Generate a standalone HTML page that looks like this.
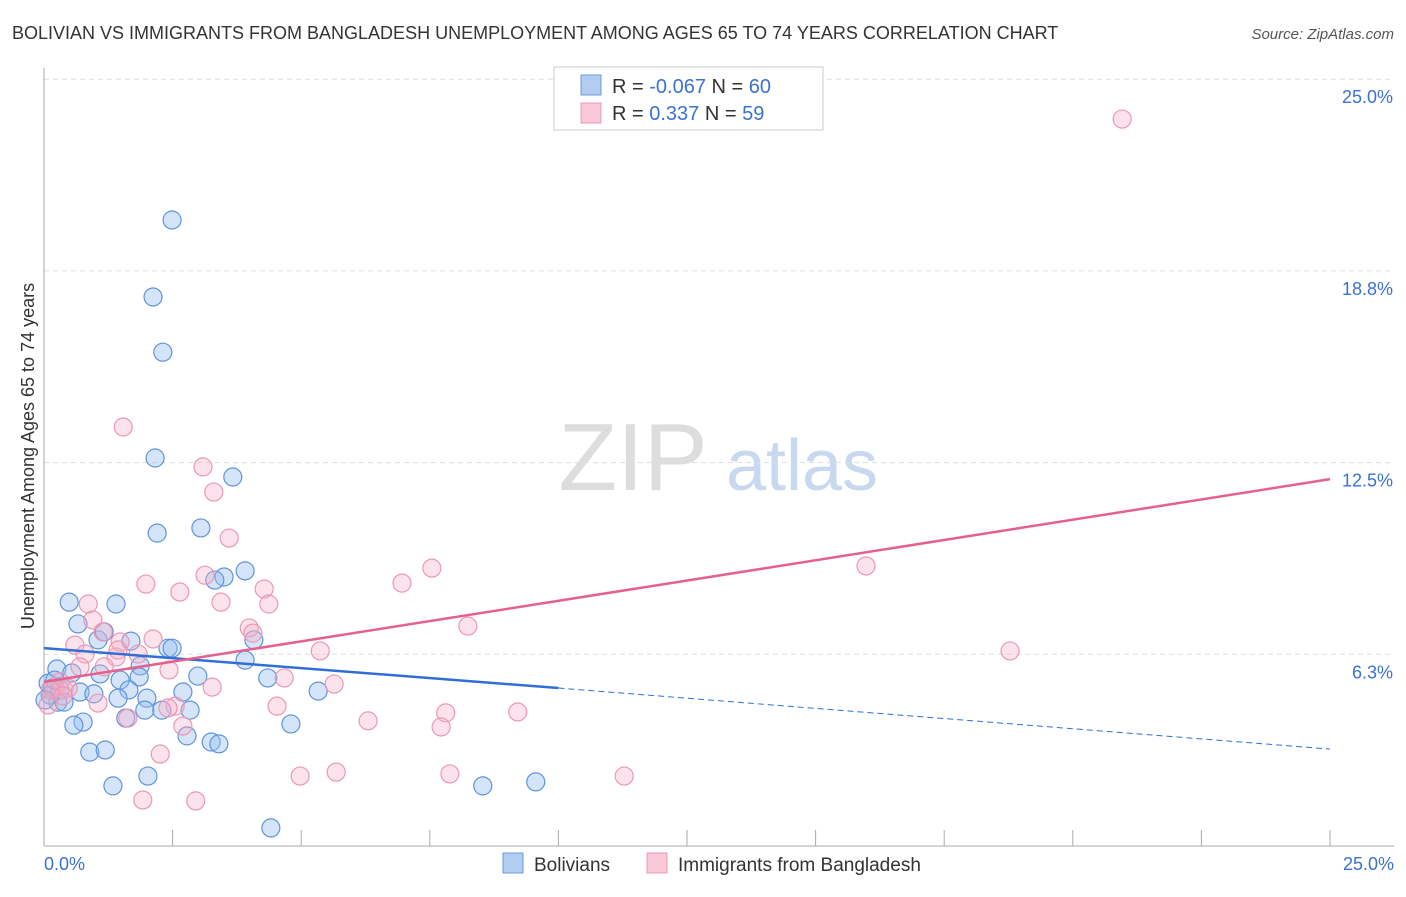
<!DOCTYPE html>
<html><head><meta charset="utf-8"><style>
body{margin:0;background:#fff;font-family:"Liberation Sans",sans-serif}
svg text{font-family:"Liberation Sans",sans-serif}
</style></head><body>
<svg id="c" width="1406" height="892">
<text x="12" y="39" font-size="18" fill="#333">BOLIVIAN VS IMMIGRANTS FROM BANGLADESH UNEMPLOYMENT AMONG AGES 65 TO 74 YEARS CORRELATION CHART</text>
<text x="1394" y="39" font-size="15" fill="#555" font-style="italic" text-anchor="end">Source: ZipAtlas.com</text>
<text x="633" y="490" font-size="96" fill="#ddd" font-family="Liberation Serif" text-anchor="middle">ZIP</text>
<text x="802" y="490" font-size="72" fill="#c8d8ee" text-anchor="middle">atlas</text>
<text transform="translate(34,456) rotate(-90)" font-size="18" fill="#333" text-anchor="middle">Unemployment Among Ages 65 to 74 years</text>
<g id="grid"></g><g id="marks"></g>
<g>
<rect x="554" y="67" width="269" height="63" fill="#fff" stroke="#ccc"/>
<rect x="581" y="75" width="20" height="20" fill="#b3cdf0" stroke="#6a9ae0"/>
<rect x="581" y="103" width="20" height="20" fill="#f8c8d6" stroke="#eb98b4"/>
<text x="612" y="93" font-size="20" fill="#333">R = <tspan fill="#3a72d0">-0.067</tspan>   N = <tspan fill="#3a72d0">60</tspan></text>
<text x="612" y="120" font-size="20" fill="#333">R =   <tspan fill="#3a72d0">0.337</tspan>   N =  <tspan fill="#3a72d0">59</tspan></text>
</g>
<g>
<rect x="503" y="853" width="20" height="20" fill="#b3cdf0" stroke="#6a9ae0"/>
<text x="534" y="871" font-size="19" fill="#333">Bolivians</text>
<rect x="647" y="853" width="20" height="20" fill="#f8c8d6" stroke="#eb98b4"/>
<text x="678" y="871" font-size="19" fill="#333">Immigrants from Bangladesh</text>
</g>
</svg>
<script>
const yTicks=[6.25,12.5,18.75,25];
const yTickLabels=["6.3%","12.5%","18.8%","25.0%"];
const blueX=[2.49,2.12,2.31,2.16,2.20,3.67,3.05,3.91,3.50,3.32,0.49,1.40,0.66,1.05,1.17,1.69,2.41,2.49,4.08,3.91,0.25,0.54,1.87,1.85,1.09,4.35,0.08,0.16,0.31,1.48,1.65,2.70,0.70,0.97,2.00,1.44,0.27,0.39,1.96,2.29,2.84,1.59,0.76,0.58,2.78,3.25,3.40,4.80,5.33,0.89,1.19,2.02,1.34,4.41,8.53,9.56,2.99,0.12,0.21,0.02];
const blueY=[20.41,17.90,16.10,12.65,10.20,12.03,10.37,8.97,8.77,8.67,7.95,7.89,7.24,6.72,6.98,6.68,6.45,6.45,6.72,6.06,5.77,5.64,5.87,5.51,5.61,5.48,5.31,5.15,5.09,5.41,5.09,5.02,5.02,4.96,4.82,4.82,4.69,4.69,4.43,4.43,4.43,4.17,4.04,3.94,3.59,3.39,3.33,3.98,5.05,3.06,3.13,2.28,1.96,0.59,1.96,2.09,5.54,4.92,5.41,4.76];
const pinkX=[20.96,1.54,3.09,3.30,3.60,1.98,2.64,3.13,4.28,4.37,3.44,0.86,0.95,7.54,6.96,15.98,8.24,18.78,3.99,4.06,2.12,1.48,0.60,0.80,1.15,1.83,1.40,5.37,2.43,0.70,1.17,4.67,5.64,3.27,0.39,0.21,0.08,1.05,2.55,4.53,2.41,1.63,2.70,6.30,7.81,7.72,9.21,2.26,4.98,5.68,7.89,11.28,1.92,2.95,0.31,0.47,0.12,1.44,0.37];
const pinkY=[23.70,13.66,12.36,11.54,10.04,8.54,8.28,8.83,8.38,7.89,7.95,7.89,7.37,9.06,8.57,9.13,7.17,6.36,7.11,6.94,6.75,6.65,6.55,6.26,6.98,6.26,6.16,6.36,5.74,5.84,5.84,5.48,5.28,5.18,5.09,5.15,4.60,4.66,4.56,4.56,4.50,4.17,3.91,4.08,4.34,3.88,4.37,3.00,2.28,2.41,2.35,2.28,1.50,1.47,5.35,5.15,5.09,6.39,4.89];
const blueTrend=[6.45,5.15,3.16];
const pinkTrend=[5.35,11.96];
const NS="http://www.w3.org/2000/svg";
const sx=v=>44+v/25*1286, sy=v=>846-v/6.25*191.7;
function mk(t,a,p){const e=document.createElementNS(NS,t);for(const k in a)e.setAttribute(k,a[k]);p.appendChild(e);return e;}
const g=document.getElementById('grid'), m=document.getElementById('marks');
yTicks.forEach((t,i)=>{
 const l=mk('line',{x1:44,x2:1394,y1:sy(t),y2:sy(t),stroke:'#ddd','stroke-dasharray':'5,4'},g);
 
 
 const tx=mk('text',{x:1393,y:sy(t)+24,'font-size':18,fill:'#3a72d0','text-anchor':'end'},g);
 tx.textContent=yTickLabels[i];
 
 
});
const ax=mk('line',{x1:44,x2:44,y1:68,y2:846,stroke:'#aaa'},g);


const xa=mk('line',{x1:44,x2:1394,y1:846,y2:846,stroke:'#aaa'},g);


for(let i=1;i<=10;i++){const t=mk('line',{x1:sx(i*2.5),x2:sx(i*2.5),y1:830,y2:846,stroke:'#aaa'},g);
 
 }
const x0=mk('text',{x:44,y:870,'font-size':18,fill:'#3a72d0'},g);x0.textContent='0.0%';


const x1=mk('text',{x:1394,y:870,'font-size':18,fill:'#3a72d0','text-anchor':'end'},g);x1.textContent='25.0%';


blueX.forEach((x,i)=>{const c=mk('circle',{cx:sx(x),cy:sy(blueY[i]),r:9,fill:'rgba(150,190,240,0.4)',stroke:'#5f93dc','stroke-width':1.2},m);
 
 });
pinkX.forEach((x,i)=>{const c=mk('circle',{cx:sx(x),cy:sy(pinkY[i]),r:9,fill:'rgba(245,175,198,0.35)',stroke:'#eb98b4','stroke-width':1.2},m);
 
 });
const b1=mk('line',{x1:sx(0),y1:sy(blueTrend[0]),x2:sx(10),y2:sy(blueTrend[1]),stroke:'#2f6fd6','stroke-width':2.5},m);


const b2=mk('line',{x1:sx(10),y1:sy(blueTrend[1]),x2:sx(25),y2:sy(blueTrend[2]),stroke:'#2f6fd6','stroke-width':1,'stroke-dasharray':'6,4'},m);


const p1=mk('line',{x1:sx(0),y1:sy(pinkTrend[0]),x2:sx(25),y2:sy(pinkTrend[1]),stroke:'#e5608f','stroke-width':2.5},m);


</script>
</body></html>
